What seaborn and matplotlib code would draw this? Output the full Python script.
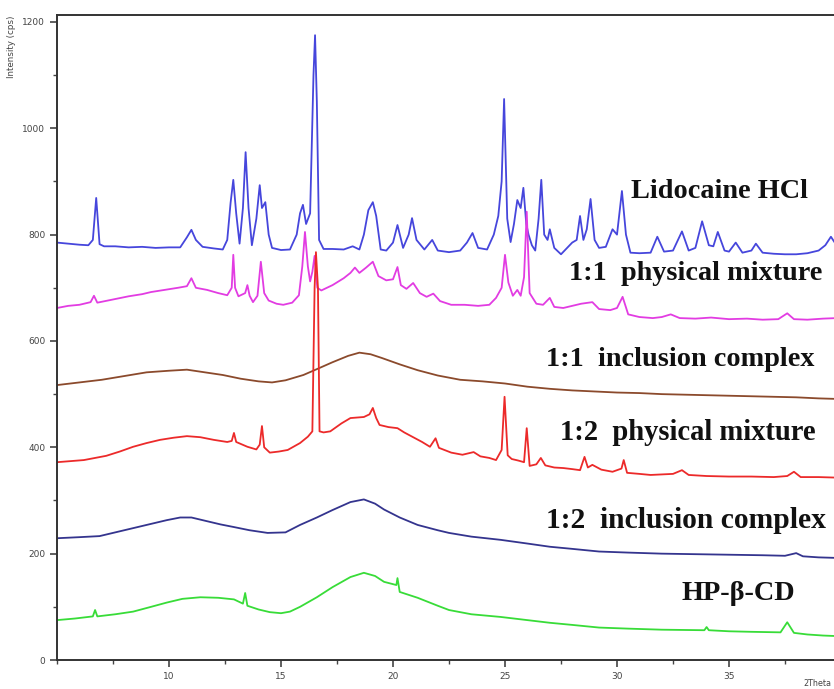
import numpy as np
import matplotlib
matplotlib.use("Agg")
import matplotlib.pyplot as plt
import seaborn as sns
from matplotlib.ticker import MultipleLocator

# 2-theta / intensity (cps)
lido_x = [5.0, 5.5, 6.0, 6.4, 6.6, 6.75, 6.9, 7.1, 7.6, 8.2, 8.8, 9.4, 10.0, 10.5, 10.8, 11.0, 11.2,
          11.5, 12.0, 12.4, 12.6, 12.75, 12.87, 13.0, 13.15, 13.3, 13.42, 13.55, 13.7, 13.9, 14.05,
          14.15, 14.3, 14.45, 14.6, 15.0, 15.4, 15.7, 15.85, 15.98, 16.12, 16.3, 16.45, 16.52, 16.6,
          16.7, 16.9, 17.3, 17.8, 18.2, 18.5, 18.7, 18.9, 19.1, 19.25, 19.45, 19.7, 20.0, 20.2, 20.45,
          20.7, 20.85, 21.05, 21.4, 21.75, 22.0, 22.5, 23.0, 23.3, 23.55, 23.8, 24.2, 24.5, 24.7, 24.85,
          24.96, 25.1, 25.25, 25.4, 25.55, 25.7, 25.82, 25.95, 26.05, 26.2, 26.35, 26.5, 26.62, 26.75,
          26.9, 27.0, 27.2, 27.5, 28.0, 28.2, 28.35, 28.5, 28.65, 28.82, 29.0, 29.2, 29.5, 29.8, 30.0,
          30.22, 30.4, 30.6, 31.0, 31.5, 31.8, 32.1, 32.5, 32.9, 33.2, 33.5, 33.8, 34.1, 34.3, 34.5,
          34.8, 35.0, 35.3, 35.6, 36.0, 36.2, 36.5, 37.0, 37.5, 38.0, 38.5, 39.0, 39.3, 39.55, 39.8]
lido_y = [785, 783, 781, 780, 790, 869, 782, 778, 778, 776, 777, 775, 776, 776, 795, 809, 790,
          777, 774, 772, 790, 860, 903, 840, 783, 850, 955, 850, 780, 830, 893,
          850, 861, 800, 775, 771, 772, 800, 840, 856, 820, 840, 1100, 1175, 1050,
          790, 773, 773, 772, 778, 772, 800, 846, 861, 835, 772, 770, 785, 818, 775,
          800, 831, 790, 772, 790, 770, 767, 770, 785, 803, 775, 772, 800, 835, 900,
          1055, 830, 786, 820, 865, 850, 888, 820, 800, 780, 770, 830, 903, 800,
          790, 810, 775, 763, 785, 790, 835, 790, 810, 867, 790, 775, 777, 810, 800,
          882, 800, 766, 765, 766, 796, 768, 770, 806, 770, 775, 825, 780, 778, 805,
          770, 768, 785, 766, 770, 783, 766, 764, 763, 763, 765, 770, 780, 796, 780]

pm11_x = [5.0, 5.5, 6.0, 6.5, 6.65, 6.8, 7.5, 8.2, 8.8, 9.2, 9.8, 10.4, 10.8, 11.0, 11.2, 11.7,
          12.2, 12.6, 12.8, 12.87, 12.95, 13.1, 13.4, 13.5, 13.6, 13.75, 13.95, 14.1, 14.25, 14.45,
          14.8, 15.1, 15.5, 15.8, 15.95, 16.07, 16.2, 16.3, 16.4, 16.5, 16.62, 16.8, 17.3, 17.8,
          18.1, 18.3, 18.5, 18.8, 19.1, 19.35, 19.7, 20.0, 20.2, 20.35, 20.6, 20.9, 21.2, 21.5,
          21.8, 22.1, 22.6, 23.2, 23.8, 24.3, 24.6, 24.85, 25.0, 25.15, 25.35, 25.55, 25.7, 25.85,
          25.97, 26.1, 26.4, 26.7, 27.0, 27.2, 27.6, 28.0, 28.4, 28.9, 29.2, 29.7, 30.0, 30.25,
          30.5, 31.0, 31.6, 32.0, 32.4, 32.8, 33.5, 34.2, 35.0, 35.8, 36.5, 37.2, 37.6, 37.9,
          38.5, 39.2, 39.8]
pm11_y = [662, 666, 668, 673, 685, 672, 678, 684, 688, 692, 696, 700, 703, 718, 700, 696,
          690, 686, 700, 762, 700, 684, 690, 705, 685, 673, 685, 749, 690, 676,
          670, 668, 672, 686, 740, 805, 740, 712, 730, 760, 700, 695, 705, 718,
          728, 738, 728, 738, 749, 722, 714, 716, 739, 705, 698, 709, 690, 683,
          689, 675, 668, 668, 666, 668, 681, 700, 762, 710, 685, 696, 685, 720,
          843, 690, 670, 668, 681, 664, 662, 666, 670, 673, 660, 658, 662, 683,
          650, 645, 643, 645, 650, 643, 642, 644, 641, 642, 640, 641, 652, 641,
          640, 642, 643]

ic11_x = [5.0, 6.0, 7.0, 8.0, 9.0, 10.0, 10.8, 11.6, 12.4, 13.2, 14.0, 14.6, 15.2, 16.0, 16.6,
          17.3, 18.0, 18.5, 19.0, 19.5, 20.3, 21.1, 22.0, 23.0, 24.0, 25.0, 26.0, 27.0, 28.0,
          29.0, 30.0, 31.0, 32.0, 33.0, 34.0, 35.0, 36.0, 37.0, 38.0, 39.0, 39.8]
ic11_y = [517, 522, 527, 534, 541, 544, 546, 541, 536, 529, 524, 522, 526, 536, 547,
          560, 572, 578, 575, 568, 556, 545, 535, 527, 524, 520, 514, 510, 507,
          505, 503, 502, 500, 499, 498, 497, 496, 495, 494, 492, 491]

pm12_x = [5.0, 5.6, 6.2, 6.7, 7.2, 7.8, 8.4, 9.0, 9.6, 10.2, 10.8, 11.4, 12.0, 12.6, 12.8, 12.9,
          13.0, 13.5, 13.9, 14.05, 14.15, 14.25, 14.5, 14.9, 15.3, 15.85, 16.2, 16.4, 16.5, 16.56,
          16.65, 16.72, 16.9, 17.2, 17.7, 18.1, 18.7, 18.95, 19.1, 19.25, 19.4, 19.8, 20.2, 20.5,
          20.9, 21.3, 21.65, 21.9, 22.05, 22.6, 23.1, 23.6, 23.9, 24.3, 24.6, 24.85, 24.98, 25.12,
          25.3, 25.6, 25.85, 25.97, 26.1, 26.4, 26.6, 26.8, 27.2, 27.6, 28.0, 28.35, 28.55, 28.7,
          28.9, 29.3, 29.8, 30.2, 30.3, 30.45, 31.0, 31.5, 32.0, 32.5, 32.9, 33.2, 34.0, 35.0,
          36.0, 37.0, 37.6, 37.9, 38.2, 39.0, 39.8]
pm12_y = [372, 374, 376, 380, 384, 392, 401, 408, 414, 418, 421, 419, 414, 410, 412, 427,
          410, 401, 396, 405, 440, 400, 390, 392, 395, 408, 420, 430, 700, 767,
          700, 430, 428, 430, 445, 455, 457, 462, 474, 455, 442, 438, 436, 428,
          419, 410, 401, 417, 399, 390, 386, 391, 383, 380, 376, 395, 495, 385,
          378, 375, 372, 436, 365, 368, 380, 366, 362, 361, 359, 357, 382, 362,
          367, 358, 354, 360, 376, 352, 350, 348, 349, 350, 357, 348, 346, 345,
          345, 344, 346, 354, 344, 344, 343]

ic12_x = [5.0, 6.0, 6.9, 7.6, 8.4, 9.2, 9.9, 10.5, 11.0, 11.6, 12.3, 12.9, 13.6, 14.4, 15.2,
          15.85, 16.6, 17.3, 18.1, 18.7, 19.2, 19.6, 20.3, 21.1, 22.0, 22.5, 23.5, 24.8, 26.0,
          27.0, 28.0, 29.2, 30.5, 32.0, 33.5, 35.0, 36.5, 37.5, 38.0, 38.3, 39.0, 39.8]
ic12_y = [229, 231, 233, 240, 248, 256, 263, 268, 268, 262, 255, 250, 244, 239, 240,
          254, 268, 282, 297, 302, 294, 283, 268, 254, 244, 239, 232, 226, 219,
          213, 209, 204, 202, 200, 199, 198, 197, 196, 201, 195, 193, 192]

hpcd_x = [5.0, 5.8, 6.6, 6.7, 6.8, 7.6, 8.4, 9.2, 9.9, 10.6, 11.4, 12.2, 12.9, 13.3, 13.4, 13.5,
          14.0, 14.5, 15.0, 15.4, 15.85, 16.6, 17.3, 18.1, 18.7, 19.2, 19.6, 20.15, 20.2, 20.3,
          21.1, 22.0, 22.5, 23.5, 24.8, 26.0, 27.0, 28.0, 29.2, 30.5, 32.0, 33.9, 34.0, 34.1,
          35.0, 36.0, 37.3, 37.6, 37.9, 38.5, 39.2, 39.8]
hpcd_y = [75, 78, 82, 94, 82, 86, 91, 100, 108, 115, 118, 117, 114, 106, 126, 102,
          95, 90, 88, 91, 100, 118, 137, 156, 164, 158, 147, 141, 154, 128,
          117, 102, 94, 86, 81, 75, 70, 66, 61, 59, 57, 56, 62, 56,
          54, 53, 52, 71, 51, 48, 46, 45]

series = [
    (lido_x, lido_y, "#4646dc", "Lidocaine HCl", 631, 191, 20.3),
    (pm11_x, pm11_y, "#e23ce2", "1:1  physical mixture", 569, 274, 20.3),
    (ic11_x, ic11_y, "#8b4a2c", "1:1  inclusion complex", 546, 360, 20.3),
    (pm12_x, pm12_y, "#ec2a2a", "1:2  physical mixture", 560, 433, 20.6),
    (ic12_x, ic12_y, "#34348e", "1:2  inclusion complex", 546, 520, 21.3),
    (hpcd_x, hpcd_y, "#38dc38", "HP-β-CD", 681, 593, 20.3),
]

sns.set_style("ticks")
W, H = 834, 689
fig = plt.figure(figsize=(W / 100, H / 100), dpi=100)
ax = fig.add_axes([57 / W, 29 / H, 784 / W, 645 / H])

for xs, ys, col, lab, tx, ty, fs in series:
    sns.lineplot(x=xs, y=ys, ax=ax, color=col, lw=1.3, sort=False, estimator=None)
    fig.text(tx / W, 1 - ty / H, lab, family="Liberation Serif", weight="bold",
             fontsize=fs, va="center", ha="left", color="#111111")

ax.set_xlim(5, 40)
ax.set_ylim(0, 1213)
ax.xaxis.set_major_locator(MultipleLocator(5))
ax.xaxis.set_minor_locator(MultipleLocator(2.5))
ax.yaxis.set_major_locator(MultipleLocator(200))
ax.yaxis.set_minor_locator(MultipleLocator(100))
ax.set_xticks([10, 15, 20, 25, 30, 35])
ax.tick_params(which="major", length=5, width=1.2, labelsize=6.5, colors="#444444",
               direction="out")
ax.tick_params(which="minor", length=3, width=1.0, direction="out", colors="#444444")
for s in ["left", "bottom", "top", "right"]:
    ax.spines[s].set_linewidth(1.4)
    ax.spines[s].set_color("#333333")
ax.set_xlabel("")
ax.set_ylabel("")

fig.text(12 / W, 1 - 15 / H, "Intensity (cps)", rotation=90, fontsize=6.3,
         color="#444444", va="top", ha="center")
fig.text(817 / W, 1 - 683 / H, "2Theta", fontsize=5.8, color="#444444",
         va="center", ha="center")

fig.savefig("out.png", dpi=100)
